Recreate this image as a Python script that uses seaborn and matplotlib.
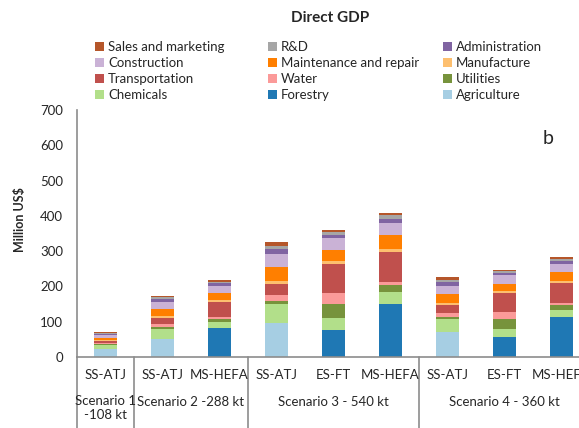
import matplotlib
matplotlib.use("Agg")
import matplotlib.pyplot as plt
import matplotlib.transforms as mtransforms
from matplotlib.patches import Patch
import seaborn as sns
import pandas as pd
import numpy as np

# ---- data ----
pathways = ["SS-ATJ", "SS-ATJ", "MS-HEFA", "SS-ATJ", "ES-FT", "MS-HEFA", "SS-ATJ", "ES-FT", "MS-HEFA"]
scenarios = ["Scenario 1\n-108 kt", "Scenario 2 -288 kt", "Scenario 3 - 540 kt", "Scenario 4 - 360 kt"]
scenario_sizes = [1, 2, 3, 3]

# stack order (bottom -> top)
sectors = ["Agriculture", "Forestry", "Chemicals", "Utilities", "Water", "Transportation",
           "Manufacture", "Maintenance and repair", "Construction", "Administration", "R&D",
           "Sales and marketing"]

agriculture = [24, 52, 0, 97, 0, 0, 72, 0, 0]
forestry = [0, 0, 81, 0, 75.5, 151, 0, 56.7, 112]
chemicals = [10, 27, 17, 53, 35, 33, 36, 23.6, 21.7]
utilities = [2, 4.7, 10.4, 9.4, 40.6, 20.8, 5.7, 26.4, 13.2]
water = [4, 9.4, 3.8, 16, 29.3, 8.5, 11.3, 19.8, 6.6]
transportation = [6, 17, 45, 32, 83, 84, 22.7, 55.7, 54.8]
manufacture = [2, 4.7, 4.7, 8.5, 8.5, 8.5, 4.7, 5.7, 5.7]
maintenance = [7, 20.5, 20.8, 38.7, 31, 40.6, 26.4, 19.8, 26.4]
construction = [7, 19.8, 19.8, 35.9, 34, 33, 22.7, 23.6, 24.5]
administration = [3, 8.5, 6.6, 15, 9.4, 11.3, 11.3, 6.6, 6.6]
rnd = [3, 5.7, 4.7, 10.4, 7.6, 10.4, 6.6, 4.7, 6.6]
sales = [3, 4.7, 4.7, 10.4, 5.7, 7.6, 6.6, 3.8, 6.6]

colors = {
    "Agriculture": "#a6cee3",
    "Forestry": "#1f78b4",
    "Chemicals": "#b2df8a",
    "Utilities": "#77933c",
    "Water": "#fb9a99",
    "Transportation": "#c0504d",
    "Manufacture": "#fdbf6f",
    "Maintenance and repair": "#ff7f00",
    "Construction": "#cab2d6",
    "Administration": "#8064a2",
    "R&D": "#a6a6a6",
    "Sales and marketing": "#b5562a",
}

values = [agriculture, forestry, chemicals, utilities, water, transportation,
          manufacture, maintenance, construction, administration, rnd, sales]

bar_ids = [f"b{i}" for i in range(len(pathways))]
rows = []
for s, vals in zip(sectors, values):
    for b, v in zip(bar_ids, vals):
        rows.append({"bar": b, "sector": s, "value": v})
df = pd.DataFrame(rows)
df["sector"] = pd.Categorical(df["sector"], categories=sectors, ordered=True)
df = df.sort_values(["bar", "sector"])
df["cum"] = df.groupby("bar")["value"].cumsum()

# ---- plot ----
sns.set_style("white")
plt.rcParams["font.family"] = ["Lato", "DejaVu Sans"]

fig = plt.figure(figsize=(5.79, 4.28), dpi=100)
ax = fig.add_axes([77 / 579, 71 / 428, 513 / 579, 247 / 428])

for s in reversed(sectors):
    sub = df[df["sector"] == s]
    sns.barplot(data=sub, x="bar", y="cum", order=bar_ids, color=colors[s],
                saturation=1, width=0.4, errorbar=None, linewidth=0, ax=ax)

ax.set_xlim(-0.5, len(bar_ids) - 0.5)
ax.set_ylim(0, 700)
ax.set_yticks(range(0, 701, 100))
ax.tick_params(axis="y", length=0, labelsize=9.5, pad=10)
ax.set_xticks([])
ax.set_xlabel("")
ax.set_ylabel("")
for sp in ["top", "right"]:
    ax.spines[sp].set_visible(False)
for sp in ["left", "bottom"]:
    ax.spines[sp].set_color("#8c8c8c")
    ax.spines[sp].set_linewidth(1.2)

trans = mtransforms.blended_transform_factory(ax.transData, ax.transAxes)
for i, p in enumerate(pathways):
    ax.text(i, -0.073, p, transform=trans, ha="center", va="center", fontsize=9.5)

start = 0
bounds = [-0.5]
for name, n in zip(scenarios, scenario_sizes):
    center = start + (n - 1) / 2
    if "\n" in name:
        ax.text(center, -0.152, name, transform=trans, ha="center", va="top",
                fontsize=9.5, linespacing=1.25)
    else:
        ax.text(center, -0.182, name, transform=trans, ha="center", va="center", fontsize=9.5)
    start += n
    bounds.append(start - 0.5)

for bx in bounds:
    ax.plot([bx, bx], [0, -0.32], transform=trans, color="#8c8c8c", lw=1.2, clip_on=False)

# legend: rows read across, reversed stack order
leg_order = list(reversed(sectors))
cols = [leg_order[0::3], leg_order[1::3], leg_order[2::3]]
col_x = [95 / 579, 268 / 579, 443 / 579]
for xs, names in zip(col_x, cols):
    handles = [Patch(facecolor=colors[n], edgecolor="none") for n in names]
    fig.legend(handles, names, loc="upper left", bbox_to_anchor=(xs, 1 - 41 / 428),
               frameon=False, fontsize=9.5, handlelength=0.7, handleheight=0.7,
               handletextpad=0.3, labelspacing=0.3, borderpad=0, borderaxespad=0)

fig.text(330 / 579, 1 - 18 / 428, "Direct GDP", ha="center", va="center",
         fontsize=11, fontweight="bold")
fig.text(20 / 579, 1 - 220 / 428, "Million US$", rotation=90, ha="center", va="center",
         fontsize=9, fontweight="bold")
fig.text(548 / 579, 1 - 138 / 428, "b", ha="center", va="center", fontsize=14)

fig.savefig("out.png", dpi=100)
